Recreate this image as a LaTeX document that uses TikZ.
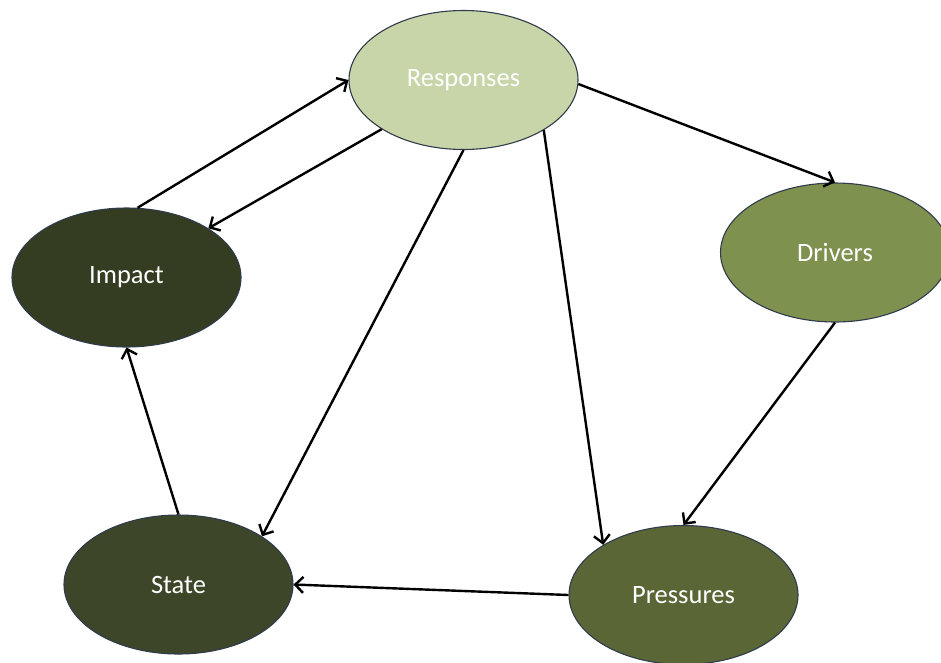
\documentclass[tikz,border=0pt]{standalone}
\usepackage{fontspec}
\setmainfont{Carlito}
\usetikzlibrary{arrows.meta,shapes.geometric}

\definecolor{respfill}{HTML}{C8D5A8}
\definecolor{drivfill}{HTML}{7F914E}
\definecolor{presfill}{HTML}{5A6636}
\definecolor{statfill}{HTML}{3D4629}
\definecolor{impfill}{HTML}{343D22}
\definecolor{rim}{HTML}{2F3B4C}

\tikzset{
  blob/.style={ellipse, draw=rim, line width=1.1pt, inner sep=0pt,
    minimum width=229pt, minimum height=139pt, text=white,
    font=\fontsize{26.5}{30}\selectfont},
  link/.style={draw=black, line width=2.4pt,
    -{Straight Barb[length=8pt,width=16pt,line width=2.4pt]}}
}

\begin{document}
\begin{tikzpicture}[x=1pt,y=-1pt]
  \useasboundingbox (0,0) rectangle (941,662);
  \clip (0,0) rectangle (941,662);

  \node[blob, fill=respfill] (resp) at (463.5,80)   {Responses};
  \node[blob, fill=drivfill] (driv) at (835,252.5)  {Drivers};
  \node[blob, fill=impfill]  (imp)  at (126.5,277.5) {Impact};
  \node[blob, fill=statfill] (stat) at (178.5,584.5) {State};
  \node[blob, fill=presfill] (pres) at (683.5,595)  {Pressures};

  \draw[link] (imp.81)   -- (resp.180);
  \draw[link] (resp.211) -- (imp.31);
  \draw[link] (resp.270) -- (stat.30);
  \draw[link] (resp.328) -- (pres.148);
  \draw[link] (resp.358) -- (driv.90);
  \draw[link] (driv.270) -- (pres.90);
  \draw[link] (pres.180) -- (stat.0);
  \draw[link] (stat.90)  -- (imp.270);
\end{tikzpicture}
\end{document}
